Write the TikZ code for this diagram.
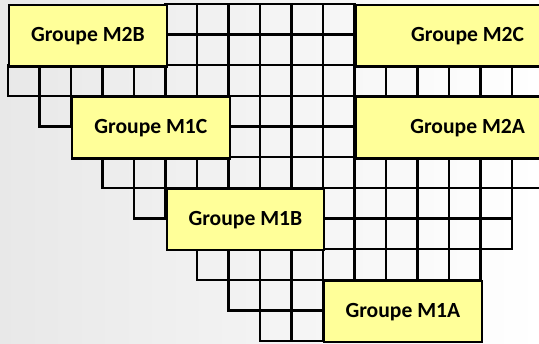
\documentclass[tikz,border=0pt]{standalone}
\usepackage{fontspec}
\setmainfont{Carlito}
\definecolor{boxyellow}{HTML}{FFFF99}
\begin{document}
\begin{tikzpicture}[x=1pt,y=-1pt,
  gridline/.style={draw=black,line width=2.3pt},
  groupbox/.style={draw=black,line width=2.3pt,fill=boxyellow,inner sep=0pt,
    font=\fontsize{21.6}{25}\selectfont\bfseries},
]
\def\cw{31.5}
\def\rh{30.65}
\useasboundingbox (0,0) rectangle (539,344);
\shade[left color=black!9, right color=white] (0,0) rectangle (539,344);
\begin{scope}
\clip (0,0) rectangle (539,344);
% grid cells: row / first col / last col
\foreach \r/\a/\b in {0/5/10,1/5/10,2/0/16,3/1/1,3/7/10,4/7/10,5/3/16,6/4/4,6/10/15,7/10/15,8/6/14,9/7/9,10/8/9} {
  \foreach \c in {\a,...,\b} {
    \draw[gridline] ({8+\cw*\c},{4+\rh*\r}) rectangle ({8+\cw*(\c+1)},{4+\rh*(\r+1)});
  }
}
% group boxes: name / left col / top row / width (px) / text
\foreach \n/\c/\r/\w/\t in {m2b/0/0/157.5/Groupe M2B, m2c/11/0/224/Groupe M2C, m1c/2/3/157.5/Groupe M1C, m2a/11/3/224/Groupe M2A, m1b/5/6/157.5/Groupe M1B, m1a/10/9/157.5/Groupe M1A} {
  \node[groupbox,minimum width=\w pt,minimum height=61.3pt,anchor=north west]
    (\n) at ({8+\cw*\c},{4+\rh*\r}) {\t};
}
\end{scope}
\end{tikzpicture}
\end{document}
